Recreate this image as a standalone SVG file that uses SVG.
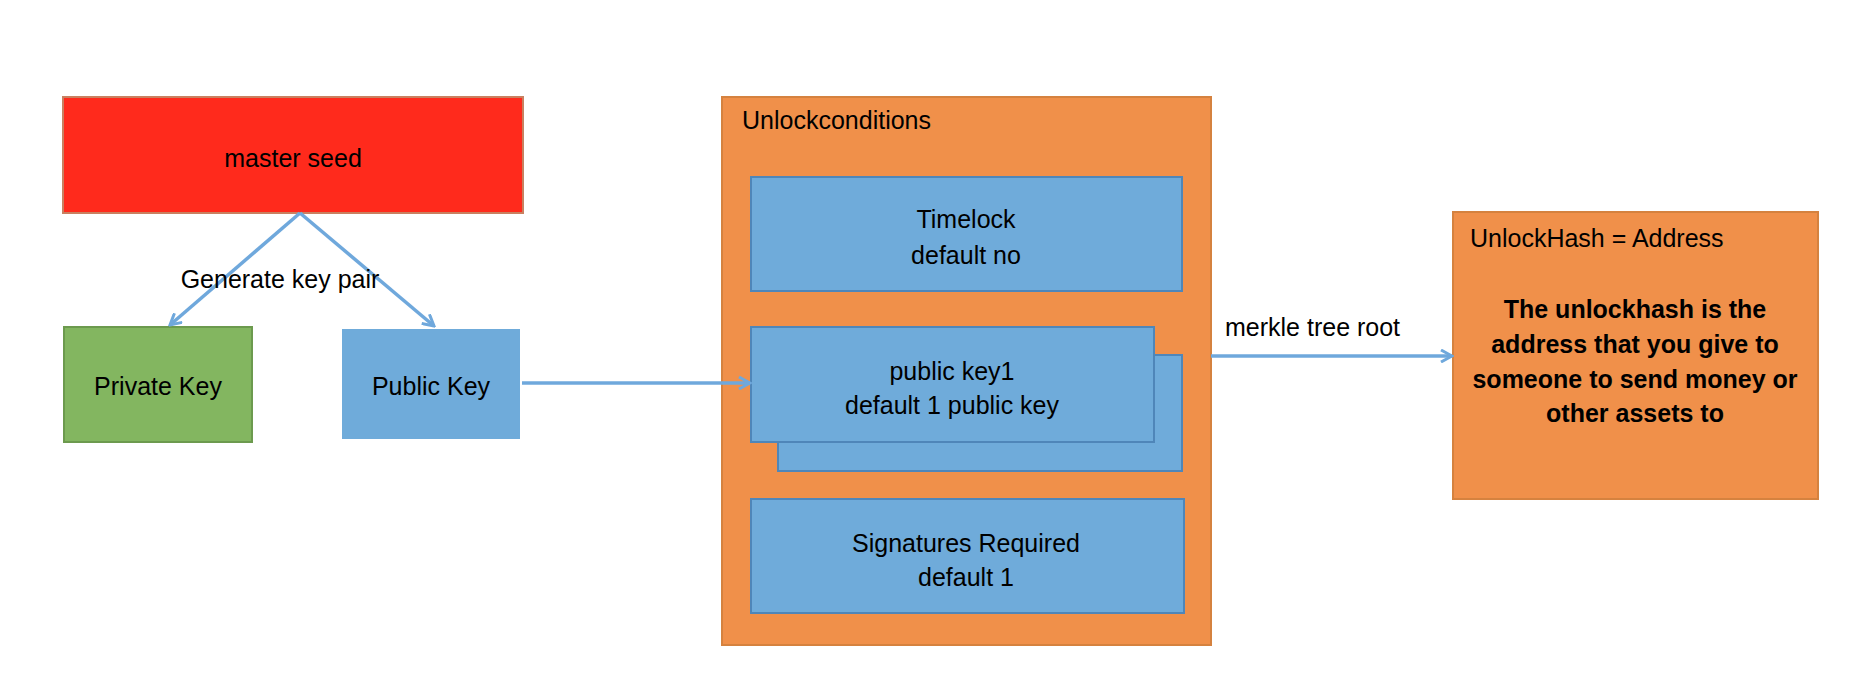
<svg xmlns="http://www.w3.org/2000/svg" width="1864" height="684" viewBox="0 0 1864 684">
<defs>
<style>
text{font-family:"Liberation Sans",Arial,sans-serif;font-size:25px;fill:#000}
.c{text-anchor:middle}
.b{font-weight:bold}
.blue{fill:#6FABDA;stroke:#4F86B9;stroke-width:2}
.orange{fill:#F0904A;stroke:#D5823F;stroke-width:2}
.edge{fill:none;stroke:#6FA8DC;stroke-width:3.5}
</style>
<marker id="arr" viewBox="0 0 14 14" refX="12" refY="7" markerWidth="14" markerHeight="14" markerUnits="userSpaceOnUse" orient="auto">
<path d="M1,1 L12,7 L1,13" fill="none" stroke="#6FA8DC" stroke-width="3"/>
</marker>
</defs>
<rect width="1864" height="684" fill="#fff"/>
<g id="master-seed">
<rect x="63" y="97" width="460" height="116" fill="#FF2A1C" stroke="#C98060" stroke-width="2"/>
<text class="c" x="293" y="167">master seed</text>
</g>
<g id="private-key">
<rect x="64" y="327" width="188" height="115" fill="#83B660" stroke="#6C9A4E" stroke-width="2"/>
<text class="c" x="158" y="395">Private Key</text>
</g>
<g id="public-key">
<rect x="342" y="329" width="178" height="110" fill="#6FABDA"/>
<text class="c" x="431" y="395">Public Key</text>
</g>
<g id="unlockconditions">
<rect class="orange" x="722" y="97" width="489" height="548"/>
<text x="742" y="129">Unlockconditions</text>
</g>
<g id="timelock">
<rect class="blue" x="751" y="177" width="431" height="114"/>
<text class="c" x="966" y="228">Timelock</text>
<text class="c" x="966" y="264">default no</text>
</g>
<g id="public-key-stack">
<rect class="blue" x="778" y="355" width="404" height="116"/>
<rect class="blue" x="751" y="327" width="403" height="115"/>
<text class="c" x="952" y="380">public key1</text>
<text class="c" x="952" y="414">default 1 public key</text>
</g>
<g id="signatures-required">
<rect class="blue" x="751" y="499" width="433" height="114"/>
<text class="c" x="966" y="552">Signatures Required</text>
<text class="c" x="966" y="586">default 1</text>
</g>
<g id="unlockhash">
<rect class="orange" x="1453" y="212" width="365" height="287"/>
<text x="1470" y="247">UnlockHash = Address</text>
<text class="c b" x="1635" y="318">The unlockhash is the</text>
<text class="c b" x="1635" y="353">address that you give to</text>
<text class="c b" x="1635" y="388">someone to send money or</text>
<text class="c b" x="1635" y="422">other assets to</text>
</g>
<g id="connectors">
<line class="edge" x1="300" y1="213" x2="170" y2="325" marker-end="url(#arr)"/>
<line class="edge" x1="300" y1="213" x2="434" y2="326" marker-end="url(#arr)"/>
<line class="edge" x1="522" y1="383" x2="750" y2="383" marker-end="url(#arr)"/>
<line class="edge" x1="1211" y1="356" x2="1452" y2="356" marker-end="url(#arr)"/>
<text class="c" x="280" y="288">Generate key pair</text>
<text x="1225" y="336">merkle tree root</text>
</g>
</svg>
